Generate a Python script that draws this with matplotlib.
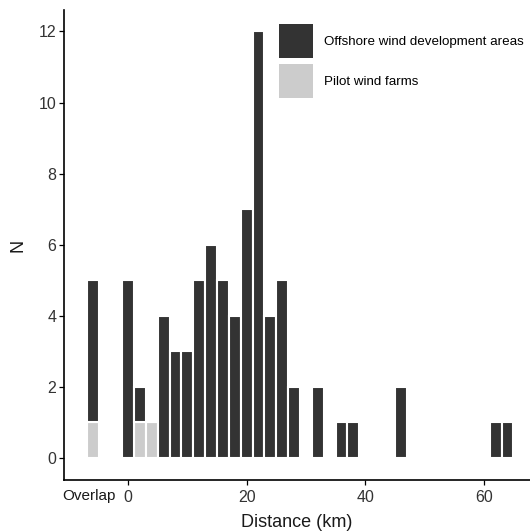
import matplotlib.pyplot as plt
from matplotlib.patches import Patch
import numpy as np

plt.rcParams['font.family'] = ['Liberation Sans', 'DejaVu Sans']

# distance bins (km, bin centres, 2 km wide)
distance = np.arange(0, 66, 2)
owda = np.zeros(len(distance))
pilot = np.zeros(len(distance))

owda_bins = [0, 2, 6, 8, 10, 12, 14, 16, 18, 20, 22, 24, 26, 28, 32, 36, 38, 46, 62, 64]
owda_counts = [5, 1, 4, 3, 3, 5, 6, 5, 4, 7, 12, 4, 5, 2, 2, 1, 1, 2, 1, 1]
pilot_bins = [2, 4]
pilot_counts = [1, 1]

# overlapping sites
overlap_owda = 4
overlap_pilot = 1

for b, c in zip(owda_bins, owda_counts):
    owda[distance == b] = c
for b, c in zip(pilot_bins, pilot_counts):
    pilot[distance == b] = c

dark = "#333333"
light = "#cccccc"
overlap_x = -6

fig = plt.figure(figsize=(5.3, 5.31), dpi=100)
ax = fig.add_axes([0.121, 0.096, 0.879, 0.885])

ax.bar(distance, pilot, width=2, color=light, edgecolor="white", linewidth=1.5)
ax.bar(distance, owda, bottom=pilot, width=2, color=dark, edgecolor="white", linewidth=1.5)
ax.bar([overlap_x], [overlap_pilot], width=2, color=light, edgecolor="white", linewidth=1.5)
ax.bar([overlap_x], [overlap_owda], bottom=[overlap_pilot], width=2, color=dark,
       edgecolor="white", linewidth=1.5)

ax.set_xlim(-10.8, 67.8)
ax.set_ylim(-0.62, 12.6)
ax.set_xticks([0, 20, 40, 60])
ax.set_yticks(range(0, 13, 2))
ax.text(overlap_x - 0.6, -0.019, "Overlap", transform=ax.get_xaxis_transform(), ha="center",
        va="top", fontsize=11, color="#1a1a1a")

for s in ["top", "right"]:
    ax.spines[s].set_visible(False)
for s in ["left", "bottom"]:
    ax.spines[s].set_linewidth(1.2)
ax.tick_params(length=3.5, width=0.9, labelsize=11.5, labelcolor="#333333", pad=2)
ax.tick_params(axis="x", pad=4)

ax.set_xlabel("Distance (km)", fontsize=13, labelpad=6, color="#1a1a1a")
ax.set_ylabel("N", fontsize=13, labelpad=9, color="#1a1a1a")

handles = [Patch(facecolor=dark, edgecolor="none"), Patch(facecolor=light, edgecolor="none")]
labels = ["Offshore wind development areas", "Pilot wind farms"]
ax.legend(handles, labels, loc="upper left", bbox_to_anchor=(0.461, 0.97), frameon=False,
          fontsize=9.6, handlelength=2.55, handleheight=3.55, labelspacing=0.45,
          handletextpad=0.8, borderaxespad=0, borderpad=0)

fig.savefig("out.png", dpi=100)
